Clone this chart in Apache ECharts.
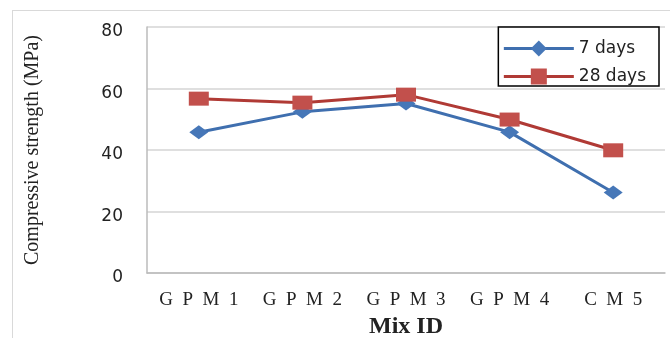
<!DOCTYPE html>
<html>
<head>
<meta charset="utf-8">
<script src="https://cdn.jsdelivr.net/npm/echarts@6/dist/echarts.min.js"></script>
<style>
  html, body { margin: 0; padding: 0; background: #fff; overflow: hidden; }
  #frame { position: absolute; left: 12px; top: 10px; width: 658px; height: 328px; border: 1px solid #d9d9d9; border-right: none; border-bottom: none; box-sizing: border-box; }
  #chart { position: absolute; left: 0; top: 0; width: 670px; height: 338px; }
</style>
</head>
<body>
<div id="frame"></div>
<div id="chart"></div>
<script>
const mixIds = ['GPM1', 'GPM2', 'GPM3', 'GPM4', 'CM5'];
const days7 = [45.8, 52.4, 55.1, 45.8, 26.2];
const days28 = [56.7, 55.4, 58.0, 49.9, 39.9];
const yTicks = [0, 20, 40, 60, 80];

const chart = echarts.init(document.getElementById('chart'), null, { renderer: 'canvas', width: 670, height: 338 });
// wide-tracked category labels
const spaced = s => s.split('').join('\u2002');

chart.setOption({
  backgroundColor: 'transparent',
  animation: false,
  grid: { left: 147, right: 5, top: 27, bottom: 65, containLabel: false, outerBoundsMode: 'none', show: false },
  legend: {
    data: ['7 days', '28 days'],
    orient: 'vertical',
    right: 11,
    top: 27,
    itemWidth: 70,
    itemHeight: 20,
    itemGap: 11,
    padding: [13, 13, 1, 4],
    borderColor: '#000',
    borderWidth: 1.5,
    backgroundColor: '#fff',
    lineStyle: { width: 3 },
    textStyle: { fontFamily: 'DejaVu Sans', fontSize: 17, color: '#222' }
  },
  xAxis: {
    type: 'category',
    data: mixIds,
    name: 'Mix ID',
    nameLocation: 'middle',
    nameGap: 40,
    nameTextStyle: { fontFamily: 'Liberation Serif', fontWeight: 'bold', fontSize: 24, color: '#222' },
    axisLine: { lineStyle: { color: '#bbb', width: 1.5 } },
    axisTick: { show: false },
    axisLabel: {
      margin: 18,
      fontFamily: 'Liberation Serif',
      fontSize: 19,
      color: '#222',
      formatter: v => spaced(v)
    }
  },
  yAxis: {
    type: 'value',
    min: yTicks[0],
    max: yTicks[yTicks.length - 1],
    interval: 20,
    name: 'Compressive strength (MPa)',
    nameLocation: 'middle',
    nameGap: 104,
    nameRotate: 90,
    nameTextStyle: { fontFamily: 'Liberation Serif', fontSize: 20, color: '#222' },
    axisLine: { show: true, lineStyle: { color: '#bbb', width: 1.5 } },
    axisTick: { show: false },
    splitLine: { lineStyle: { color: '#d4d4d4', width: 1.5 } },
    axisLabel: { margin: 24, verticalAlign: 'top', lineHeight: 10, fontFamily: 'DejaVu Sans', fontSize: 17, color: '#222' }
  },
  series: [
    {
      name: '7 days',
      type: 'line',
      data: days7,
      symbol: 'diamond',
      symbolSize: [19, 14],
      lineStyle: { color: '#3f6faf', width: 3 },
      itemStyle: { color: '#4677b8' }
    },
    {
      name: '28 days',
      type: 'line',
      data: days28,
      symbol: 'rect',
      symbolSize: [20, 14],
      lineStyle: { color: '#b03a35', width: 3 },
      itemStyle: { color: '#c2504c' }
    }
  ]
});
</script>
</body>
</html>
